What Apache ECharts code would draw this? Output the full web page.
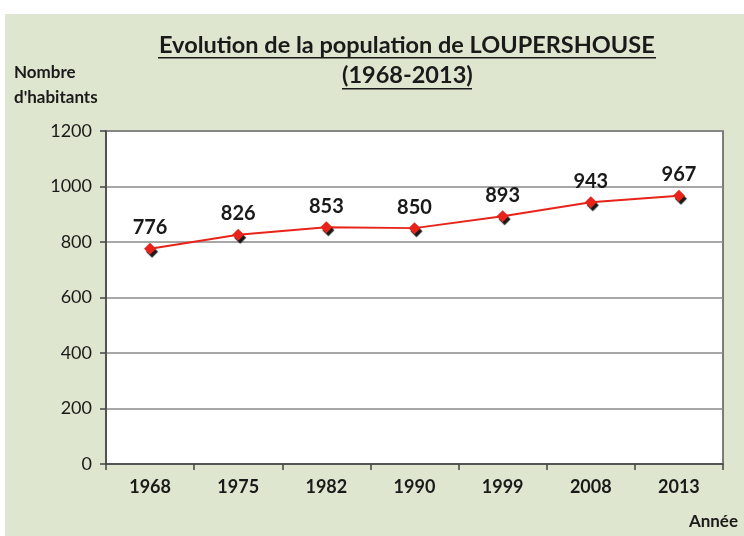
<!DOCTYPE html>
<html>
<head>
<meta charset="utf-8">
<script src="https://cdn.jsdelivr.net/npm/echarts@6/dist/echarts.min.js"></script>
<style>
  html, body { margin: 0; padding: 0; background: #fff; }
  #chart { width: 744px; height: 536px; }
</style>
</head>
<body>
<div id="chart"></div>
<script>
const years = ['1968', '1975', '1982', '1990', '1999', '2008', '2013']
const population = [776, 826, 853, 850, 893, 943, 967]
const yTicks = { min: 0, max: 1200, interval: 200 }

const FONT = 'Lato'
const INK = '#1a1a1a'
const chart = echarts.init(document.getElementById('chart'))

chart.setOption({
  backgroundColor: '#fff',
  textStyle: { fontFamily: FONT },
  graphic: [
    // green frame behind everything
    { type: 'rect', z: -10, shape: { x: 5, y: 14, width: 739, height: 522 }, style: { fill: '#dfe6cf' } },
    // title, underlined by hand
    { type: 'text', left: 159, top: 33, style: { text: 'Evolution de la population de LOUPERSHOUSE', font: 'bold 23.5px ' + FONT, fill: INK } },
    { type: 'rect', shape: { x: 158, y: 57, width: 498, height: 1.5 }, style: { fill: INK } },
    { type: 'text', left: 342, top: 63, style: { text: '(1968-2013)', font: 'bold 23.5px ' + FONT, fill: INK } },
    { type: 'rect', shape: { x: 342, y: 88, width: 130, height: 1.5 }, style: { fill: INK } },
    // axis names
    { type: 'text', left: 14, top: 60, style: { text: 'Nombre\nd\'habitants', font: 'bold 17px ' + FONT, lineHeight: 25, fill: INK } },
    { type: 'text', right: 6, top: 513, style: { text: 'Année', font: 'bold 17px ' + FONT, fill: INK } }
  ],
  grid: {
    left: 106, right: 21, top: 131, bottom: 72,
    show: true, backgroundColor: '#fff', borderColor: '#555', borderWidth: 1.5
  },
  xAxis: {
    type: 'category',
    data: years,
    boundaryGap: true,
    axisLine: { lineStyle: { color: '#444', width: 1.5 } },
    axisTick: { show: true, length: 6, lineStyle: { color: '#444', width: 1.5 } },
    axisLabel: { color: INK, fontSize: 18, fontWeight: 'bold', fontFamily: FONT, margin: 14 }
  },
  yAxis: {
    type: 'value',
    min: yTicks.min, max: yTicks.max, interval: yTicks.interval,
    axisLine: { show: true, lineStyle: { color: '#444', width: 1.5 } },
    axisTick: { show: true, length: 6, lineStyle: { color: '#444', width: 1.5 } },
    axisLabel: { color: INK, fontSize: 18, fontFamily: FONT, margin: 14, formatter: v => String(v) },
    splitLine: { lineStyle: { color: '#8a8a8a', width: 1.5 } }
  },
  series: [{
    type: 'line',
    data: population,
    symbol: 'diamond',
    symbolSize: 12,
    lineStyle: { color: '#e8231a', width: 2 },
    itemStyle: { color: '#e8231a', shadowColor: 'rgba(0,0,0,0.9)', shadowOffsetX: 2, shadowOffsetY: 3, shadowBlur: 1 },
    label: { show: true, position: 'top', distance: 5, color: INK, fontSize: 20, fontWeight: 'bold', fontFamily: FONT },
    animation: false
  }]
})
</script>
</body>
</html>
